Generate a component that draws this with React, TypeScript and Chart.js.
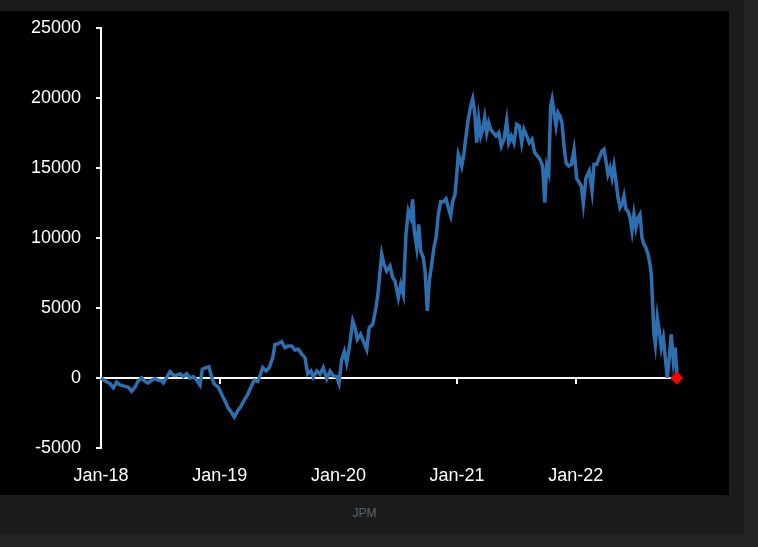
import React, { useEffect, useRef } from "react";
import { Chart, registerables } from "chart.js";

Chart.register(...registerables);

// x positions in months since Jan-18
const months: number[] = [
  0, 0.4, 0.9, 1.24, 1.59, 1.92, 2.43, 2.76, 3.1, 3.44, 3.77, 4.11, 4.45, 4.78, 5.13, 5.46, 5.79, 6.14, 6.3, 6.64,
  6.98, 7.31, 7.65, 7.99, 8.32, 8.66, 9.0, 9.33, 9.67, 10.01, 10.24, 10.58, 10.92, 11.19, 11.45, 11.86, 12.2, 12.54,
  12.87, 13.21, 13.48, 13.82, 14.15, 14.49, 14.83, 15.16, 15.5, 15.84, 16.07, 16.35, 16.68, 17.01, 17.36, 17.59,
  17.92, 18.27, 18.6, 18.94, 19.28, 19.61, 19.95, 20.29, 20.62, 20.9, 21.23, 21.46, 21.81, 22.14, 22.47, 22.82,
  23.15, 23.49, 23.83, 24.06, 24.33, 24.6, 24.83, 25.1, 25.45, 25.68, 25.91, 26.25, 26.52, 26.86, 27.12, 27.47,
  27.8, 28.03, 28.21, 28.38, 28.61, 28.88, 29.22, 29.49, 29.72, 30.06, 30.3, 30.56, 30.83, 31.07, 31.31, 31.51,
  31.67, 31.92, 32.12, 32.32, 32.58, 32.76, 32.99, 33.19, 33.43, 33.66, 33.87, 34.1, 34.34, 34.6, 34.88, 35.11,
  35.35, 35.56, 35.79, 35.96, 36.12, 36.29, 36.47, 36.7, 36.9, 37.13, 37.37, 37.58, 37.78, 37.98, 38.18, 38.39,
  38.59, 38.79, 38.99, 39.19, 39.4, 39.66, 39.93, 40.21, 40.47, 40.74, 41.01, 41.22, 41.48, 41.75, 42.02, 42.29,
  42.53, 42.76, 43.04, 43.3, 43.57, 43.84, 44.11, 44.38, 44.65, 44.86, 45.06, 45.26, 45.46, 45.6, 45.8, 46.0,
  46.2, 46.4, 46.6, 46.81, 47.01, 47.28, 47.55, 47.82, 48.09, 48.35, 48.56, 48.76, 49.03, 49.36, 49.64, 49.84,
  50.11, 50.37, 50.65, 50.85, 51.05, 51.25, 51.46, 51.66, 51.86, 52.06, 52.27, 52.47, 52.67, 52.87, 53.07, 53.27,
  53.48, 53.68, 53.88, 54.08, 54.29, 54.49, 54.69, 54.89, 55.09, 55.3, 55.5, 55.63, 55.77, 55.9, 56.04, 56.24,
  56.44, 56.64, 56.85, 57.05, 57.25, 57.45, 57.65, 57.86, 58.06, 58.15, 58.2,
];

const values: number[] = [
  0, -200, -400, -700, -300, -500, -600, -650, -950, -650, -200, 0, -250, -350, -150, -50, -150, -200, -350, 50,
  450, 200, 200, 300, 100, 300, 0, 100, -150, -500, 620, 740, 800, 50, -430, -650, -1160, -1640,
  -2170, -2480, -2790, -2330, -2020, -1570, -1190, -650, -150, -250, 160, 740, 500, 740, 1450, 2400,
  2450, 2600, 2170, 2290, 2290, 2000, 2050, 1710, 1450, 300, 500, 50, 500, 280, 740, -50,
  500, 150, 100, -380, 1300, 1900, 1100, 2170, 4070, 3600, 2760, 3120, 2640, 2050, 3600, 3830,
  5020, 6210, 7640, 8840, 8120, 7640, 8000, 7170, 6930, 5740, 6690, 5980, 10260, 11930, 11450, 12760,
  10500, 9310, 10980, 9070, 8590, 7640, 4790, 6930, 8120, 9310, 10020, 11690, 12600, 12580, 12800, 12160,
  11600, 12640, 13120, 14500, 15970, 15620, 15140, 16090, 17290, 18480, 19430, 19950, 18950, 16810, 18480, 17290,
  17760, 18600, 17520, 18240, 17760, 17520, 17290, 17520, 16570, 17050, 18360, 16810, 17290, 16810, 18120, 18000,
  16810, 17760, 17290, 16810, 17050, 16090, 15860, 15620, 15140, 12520, 15140, 14670, 19430, 19900, 18950, 18000,
  18950, 18710, 18240, 16570, 15380, 15140, 15260, 16300, 14250, 13950, 13710, 12460, 14310, 14790, 13360, 15260,
  15260, 15740, 16210, 16330, 15500, 14550, 15020, 14310, 15140, 14070, 12880, 12160, 12400, 13000, 12050, 11930,
  11450, 10500, 11690, 10740, 11450, 11690, 10020, 9550, 9310, 8840, 8120, 7410, 5260, 3120, 2400, 4310,
  3360, 2170, 2880, 1450, 20, 1450, 3120, 1210, 2170, 900, 0,
];

const lastMonth = 58.2;
const lastValue = 0;

const xTickValues: number[] = [0, 12, 24, 36, 48];
const xTickLabels: string[] = ["Jan-18", "Jan-19", "Jan-20", "Jan-21", "Jan-22"];
const yMin = -5000;
const yMax = 25000;
const yStep = 5000;

const FONT = "'Liberation Sans', Arial, Helvetica, sans-serif";

export default function App() {
  const ref = useRef<HTMLCanvasElement | null>(null);

  useEffect(() => {
    if (!ref.current) return;
    const chart = new Chart(ref.current, {
      type: "line",
      data: {
        datasets: [
          {
            label: "latest",
            data: [{ x: lastMonth, y: lastValue }],
            showLine: false,
            pointStyle: "rectRot",
            pointRadius: 6.5,
            pointBackgroundColor: "#ff0000",
            pointBorderColor: "#ff0000",
            pointBorderWidth: 0,
            clip: false,
          },
          {
            label: "series",
            data: months.map((m, i) => ({ x: m, y: values[i] })),
            borderColor: "#2e6fb0",
            borderWidth: 3.5,
            pointRadius: 0,
            tension: 0,
            fill: false,
            clip: false,
          },
        ],
      },
      options: {
        animation: false,
        responsive: false,
        devicePixelRatio: 1,
        layout: { padding: { left: 0, right: 52.3, top: 17, bottom: 47 } },
        plugins: { legend: { display: false }, tooltip: { enabled: false } },
        scales: {
          x: {
            type: "linear",
            position: { y: 0 } as any,
            min: 0,
            max: lastMonth,
            afterBuildTicks: (s: any) => {
              s.ticks = xTickValues.map((v) => ({ value: v }));
            },
            afterFit: (s: any) => {
              s.paddingLeft = 0;
              s.paddingRight = 0;
              s.paddingTop = 0;
              s.paddingBottom = 0;
            },
            ticks: {
              autoSkip: false,
              maxRotation: 0,
              padding: 82,
              color: "#ffffff",
              font: { family: FONT, size: 18 },
              callback: (v: any) => {
                const i = xTickValues.indexOf(Number(v));
                return i >= 0 ? xTickLabels[i] : "";
              },
            },
            grid: {
              display: true,
              drawOnChartArea: false,
              drawTicks: true,
              tickLength: 5,
              color: "#ffffff",
              lineWidth: 2,
            },
            border: { display: true, color: "#ffffff", width: 2 },
          },
          y: {
            type: "linear",
            position: "left",
            min: yMin,
            max: yMax,
            afterFit: (s: any) => {
              s.width = 101;
              s.paddingTop = 0;
              s.paddingBottom = 0;
              s.paddingLeft = 0;
              s.paddingRight = 0;
            },
            ticks: {
              stepSize: yStep,
              padding: 15,
              color: "#ffffff",
              font: { family: FONT, size: 18 },
              callback: (v: any) => String(v),
            },
            grid: {
              display: true,
              drawOnChartArea: false,
              drawTicks: true,
              tickLength: 5,
              color: "#ffffff",
              lineWidth: 2,
            },
            border: { display: true, color: "#ffffff", width: 2 },
          },
        },
      },
    });
    return () => chart.destroy();
  }, []);

  return (
    <div style={{ position: "fixed", left: 0, top: 0, width: 758, height: 547, background: "#232323", overflow: "hidden" }}>
      <div style={{ position: "absolute", left: 0, top: 0, width: 744, height: 534, background: "#1b1c1c" }}>
        <div style={{ position: "absolute", left: 0, top: 11, width: 729, height: 484, background: "#000000" }}>
          <canvas ref={ref} width={729} height={484} style={{ display: "block", width: 729, height: 484 }} />
        </div>
        <div
          style={{
            position: "absolute",
            left: 0,
            top: 505,
            width: 729,
            height: 16,
            lineHeight: "16px",
            textAlign: "center",
            color: "#5c6168",
            fontFamily: FONT,
            fontSize: 12,
          }}
        >
          JPM
        </div>
      </div>
    </div>
  );
}
